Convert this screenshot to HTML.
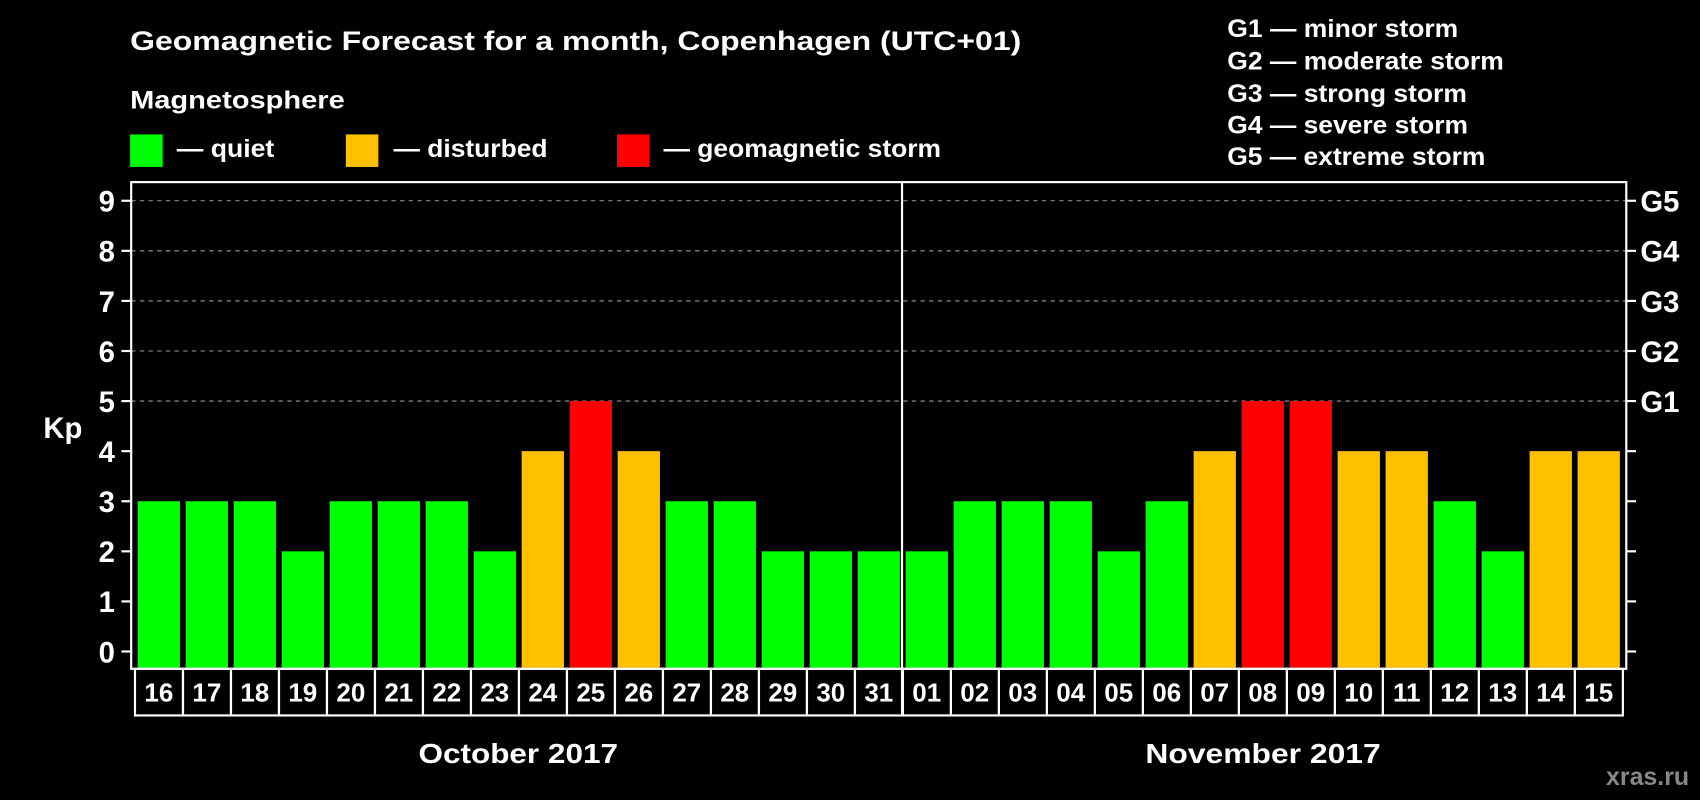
<!DOCTYPE html>
<html><head><meta charset="utf-8"><style>
html,body{margin:0;padding:0;background:#000;}
svg{display:block;font-family:"Liberation Sans",Arial,sans-serif;font-weight:bold;}
</style></head><body>
<svg id="chart" width="1700" height="800" viewBox="0 0 1568 738" preserveAspectRatio="none">
<text x="120" y="46" fill="#fff" font-size="25" textLength="822" lengthAdjust="spacingAndGlyphs">Geomagnetic Forecast for a month, Copenhagen (UTC+01)</text>
<text x="120" y="100" fill="#fff" font-size="23" textLength="198" lengthAdjust="spacingAndGlyphs">Magnetosphere</text>
<g><rect x="120" y="124" width="30" height="30" fill="#00ff00"/><text x="163" y="145" fill="#fff" font-size="23" textLength="90" lengthAdjust="spacingAndGlyphs">— quiet</text></g>
<g><rect x="319" y="124" width="30" height="30" fill="#ffc000"/><text x="363" y="145" fill="#fff" font-size="23" textLength="142" lengthAdjust="spacingAndGlyphs">— disturbed</text></g>
<g><rect x="569" y="124" width="30" height="30" fill="#ff0000"/><text x="612" y="145" fill="#fff" font-size="23" textLength="256" lengthAdjust="spacingAndGlyphs">— geomagnetic storm</text></g>
<g fill="#fff" font-size="23">
<text x="1132" y="34" textLength="213" lengthAdjust="spacingAndGlyphs">G1 — minor storm</text>
<text x="1132" y="64" textLength="255" lengthAdjust="spacingAndGlyphs">G2 — moderate storm</text>
<text x="1132" y="94" textLength="221" lengthAdjust="spacingAndGlyphs">G3 — strong storm</text>
<text x="1132" y="123" textLength="222" lengthAdjust="spacingAndGlyphs">G4 — severe storm</text>
<text x="1132" y="152" textLength="238" lengthAdjust="spacingAndGlyphs">G5 — extreme storm</text>
</g>
<text x="58" y="404" fill="#fff" font-size="27" text-anchor="middle">Kp</text>
<g id="grid"></g>
<g id="bars"></g>
<g id="labels"></g>
<rect x="121" y="168" width="1379" height="449" fill="none" stroke="#fff" stroke-width="2"/>
<line x1="832" y1="168" x2="832" y2="660" stroke="#fff" stroke-width="2"/>
<text x="478" y="704" fill="#fff" font-size="26" text-anchor="middle" textLength="184" lengthAdjust="spacingAndGlyphs">October 2017</text>
<text x="1165" y="704" fill="#fff" font-size="26" text-anchor="middle" textLength="217" lengthAdjust="spacingAndGlyphs">November 2017</text>
<text x="1558" y="724" fill="#888" font-size="23" text-anchor="end">xras.ru</text>
</svg>
<script>
const days = ["16","17","18","19","20","21","22","23","24","25","26","27","28","29","30","31","01","02","03","04","05","06","07","08","09","10","11","12","13","14","15"];
const kpValues = [3,3,3,2,3,3,3,2,4,5,4,3,3,2,2,2,2,3,3,3,2,3,4,5,5,4,4,3,2,4,4];
const yTicks = [0,1,2,3,4,5,6,7,8,9];
const gLabels = ["","","","","","G1","G2","G3","G4","G5"];
const NS="http://www.w3.org/2000/svg";
function y(v){return 601-v*46.2;}
function x(i){return 127+i*44.27;}
function color(v){return v>=5?"#ff0000":(v>=4?"#ffc000":"#00ff00");}
function mk(t,a,p){const e=document.createElementNS(NS,t);for(const k in a)e.setAttribute(k,a[k]);p.appendChild(e);return e;}
const grid=document.getElementById('grid'),bars=document.getElementById('bars'),labels=document.getElementById('labels');
yTicks.forEach((v,i)=>{
  const yy=y(v);
  if(v>=5){const gl=mk('line',{x1:121,x2:1500,y1:yy,y2:yy,stroke:'#999','stroke-dasharray':'4,4','stroke-width':1},grid);
  }
  const t1=mk('line',{x1:112,x2:121,y1:yy,y2:yy,stroke:'#fff','stroke-width':2},grid);
  
  const t2=mk('line',{x1:1500,x2:1509,y1:yy,y2:yy,stroke:'#fff','stroke-width':2},grid);
  
  const tl=mk('text',{x:106,y:yy+10,fill:'#fff','font-size':27,'text-anchor':'end'},grid);tl.textContent=v;
  
  if(gLabels[i]){const gt=mk('text',{x:1513,y:yy+10,fill:'#fff','font-size':27},grid);gt.textContent=gLabels[i];
  }
});
kpValues.forEach((v,i)=>{
  const r=mk('rect',{x:x(i),y:y(v),width:39,height:616-y(v),fill:color(v)},bars);
  
  const b=mk('rect',{x:x(i)-2.5,y:617,width:44.27,height:43,fill:'none',stroke:'#fff','stroke-width':2},labels);
  
  const t=mk('text',{x:x(i)+19.5,y:647,fill:'#fff','font-size':24,'text-anchor':'middle'},labels);t.textContent=days[i];
  
});
</script>
</body></html>
